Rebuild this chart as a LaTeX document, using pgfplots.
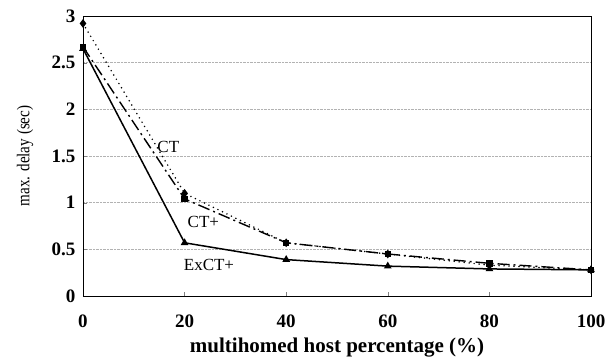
\documentclass[border=0pt]{standalone}
\usepackage{pgfplots}
\pgfplotsset{compat=1.18}
\usepackage{fontspec}
\setmainfont{Liberation Serif}
\usepackage{graphicx}
\begin{document}
\begin{tikzpicture}
\begin{axis}[
  scale only axis,
  width=508pt, height=280pt,
  xmin=0, xmax=100, ymin=0, ymax=3,
  xtick={0,20,40,60,80,100},
  ytick={0,0.5,1,1.5,2,2.5,3},
  yticklabels={0,0.5,1,1.5,2,2.5,3},
  xticklabels={0,20,40,60,80,100},
  ymajorgrids,
  grid style={gray!60, densely dotted, line width=0.6pt},
  axis line style={line width=0.9pt},
  tick align=inside,
  major tick length=4pt,
  xtick pos=bottom, ytick pos=left,
  ticklabel style={font=\fontsize{19}{22}\selectfont\bfseries},
  xticklabel style={yshift=-15pt},
  yticklabel style={xshift=-4pt},
  xlabel={multihomed host percentage (\%)},
  xlabel style={font=\fontsize{21}{24}\selectfont\bfseries, at={(axis description cs:0.5,0)}, anchor=north, yshift=-38pt},
  ylabel={\scalebox{0.84}[1]{max. delay (sec)}},
  ylabel style={font=\fontsize{18}{20}\selectfont, at={(axis description cs:0,0.5)}, anchor=center, yshift=58pt},
  clip=false,
]
\addplot[black, line width=1.7pt, dash pattern=on 0pt off 5pt, line cap=round, mark=diamond*, mark size=3pt, mark options={solid}]
  coordinates {(0,2.92) (20,1.10) (40,0.57) (60,0.45) (80,0.33) (100,0.28)};
\addplot[black, line width=1.4pt, dash pattern=on 12pt off 4pt on 2pt off 4pt, mark=square*, mark size=2.5pt, mark options={solid}]
  coordinates {(0,2.67) (20,1.04) (40,0.57) (60,0.45) (80,0.35) (100,0.28)};
\addplot[black, line width=1.5pt, mark=triangle*, mark size=3pt, mark options={solid}]
  coordinates {(0,2.65) (20,0.57) (40,0.39) (60,0.32) (80,0.29) (100,0.28)};
\node[font=\fontsize{17}{20}\selectfont] at (axis cs:16.8,1.6) {CT};
\node[font=\fontsize{17}{20}\selectfont] at (axis cs:23.7,0.79) {CT+};
\node[font=\fontsize{17}{20}\selectfont] at (axis cs:24.8,0.33) {ExCT+};
\end{axis}
\pgfresetboundingbox
\path[use as bounding box] ([shift={(-83pt,-65pt)}]current axis.south west) rectangle ([shift={(20pt,16pt)}]current axis.north east);
\end{tikzpicture}
\end{document}
